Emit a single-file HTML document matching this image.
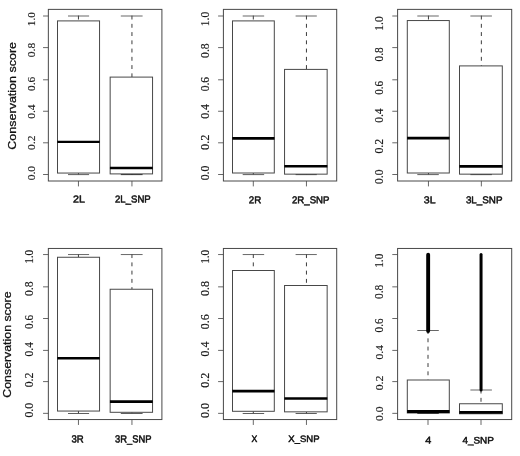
<!DOCTYPE html>
<html lang="en"><head><meta charset="utf-8"><title>Conservation score boxplots</title>
<style>html,body{margin:0;padding:0;background:#fff}svg{display:block}text{font-size:10px}.t{font-family:"Liberation Serif",serif;fill:#1a1a1a;stroke:#1a1a1a;stroke-width:.15}.x{font-family:"Liberation Sans",sans-serif;fill:#111;stroke:#111;stroke-width:.5;stroke-linejoin:round}.y{font-family:"Liberation Sans",sans-serif;fill:#111;stroke:#111;stroke-width:.25}</style></head><body>
<svg width="520" height="456" viewBox="0 0 520 456">
<rect width="520" height="456" fill="#fff"/>
<g>
<line x1="43.05" y1="16" x2="48.35" y2="16" stroke="#4c4c4c" stroke-width="0.85"/>
<line x1="43.05" y1="47.6" x2="48.35" y2="47.6" stroke="#4c4c4c" stroke-width="0.85"/>
<line x1="43.05" y1="79.8" x2="48.35" y2="79.8" stroke="#4c4c4c" stroke-width="0.85"/>
<line x1="43.05" y1="111.25" x2="48.35" y2="111.25" stroke="#4c4c4c" stroke-width="0.85"/>
<line x1="43.05" y1="142.8" x2="48.35" y2="142.8" stroke="#4c4c4c" stroke-width="0.85"/>
<line x1="43.05" y1="174.5" x2="48.35" y2="174.5" stroke="#4c4c4c" stroke-width="0.85"/>
<line x1="78.45" y1="181" x2="78.45" y2="186.4" stroke="#4c4c4c" stroke-width="0.85"/>
<line x1="131.95" y1="181" x2="131.95" y2="186.4" stroke="#4c4c4c" stroke-width="0.85"/>
<line x1="78.45" y1="15.6" x2="78.45" y2="20.9" stroke="#3c3c3c" stroke-width="1" stroke-dasharray="3.9 4.35"/>
<line x1="78.45" y1="173.05" x2="78.45" y2="174.5" stroke="#3c3c3c" stroke-width="1"/>
<line x1="68" y1="16" x2="89.1" y2="16" stroke="#4c4c4c" stroke-width="0.85"/>
<line x1="68" y1="174.6" x2="89.1" y2="174.6" stroke="#4c4c4c" stroke-width="0.9"/>
<line x1="131.95" y1="15.6" x2="131.95" y2="77.1" stroke="#3c3c3c" stroke-width="1" stroke-dasharray="3.9 4.35"/>
<line x1="131.95" y1="173.9" x2="131.95" y2="174.5" stroke="#3c3c3c" stroke-width="1"/>
<line x1="120.8" y1="16" x2="142.6" y2="16" stroke="#4c4c4c" stroke-width="0.85"/>
<line x1="120.8" y1="174.6" x2="142.6" y2="174.6" stroke="#111" stroke-width="0.9"/>
<rect x="57.5" y="20.9" width="42.05" height="152.15" fill="#fff" stroke="#484848" stroke-width="1"/>
<line x1="57.3" y1="141.9" x2="99.75" y2="141.9" stroke="#000" stroke-width="2.3"/>
<rect x="110.15" y="77.1" width="42.4" height="96.8" fill="#fff" stroke="#484848" stroke-width="1"/>
<line x1="109.95" y1="168" x2="152.75" y2="168" stroke="#000" stroke-width="2.3"/>
<rect x="48.35" y="9.38" width="113.55" height="171.62" fill="none" stroke="#484848" stroke-width="1"/>
<text class="t" transform="translate(34.81,26.15) rotate(-90) scale(1.1076,1.1265)">1.0</text>
<text class="t" transform="translate(34.81,57.21) rotate(-90) scale(1.1455,1.1265)">0.8</text>
<text class="t" transform="translate(34.81,90.90) rotate(-90) scale(1.1298,1.1265)">0.6</text>
<text class="t" transform="translate(34.81,118.81) rotate(-90) scale(1.1491,1.1265)">0.4</text>
<text class="t" transform="translate(34.81,149.91) rotate(-90) scale(1.1542,1.1265)">0.2</text>
<text class="t" transform="translate(34.81,180.31) rotate(-90) scale(1.1540,1.1265)">0.0</text>
<text class="x" transform="translate(72.96,202.60) rotate(0.03) scale(1.0706,1.0177)">2L</text>
<text class="x" transform="translate(115.02,202.60) rotate(0.03) scale(0.9593,1.0177)">2L_SNP</text>
</g>
<g>
<line x1="218.1" y1="16" x2="223.4" y2="16" stroke="#4c4c4c" stroke-width="0.85"/>
<line x1="218.1" y1="47.6" x2="223.4" y2="47.6" stroke="#4c4c4c" stroke-width="0.85"/>
<line x1="218.1" y1="79.8" x2="223.4" y2="79.8" stroke="#4c4c4c" stroke-width="0.85"/>
<line x1="218.1" y1="111.25" x2="223.4" y2="111.25" stroke="#4c4c4c" stroke-width="0.85"/>
<line x1="218.1" y1="142.8" x2="223.4" y2="142.8" stroke="#4c4c4c" stroke-width="0.85"/>
<line x1="218.1" y1="174.5" x2="223.4" y2="174.5" stroke="#4c4c4c" stroke-width="0.85"/>
<line x1="253.3" y1="181" x2="253.3" y2="186.4" stroke="#4c4c4c" stroke-width="0.85"/>
<line x1="306.45" y1="181" x2="306.45" y2="186.4" stroke="#4c4c4c" stroke-width="0.85"/>
<line x1="253.3" y1="15.6" x2="253.3" y2="20.9" stroke="#3c3c3c" stroke-width="1" stroke-dasharray="3.9 4.35"/>
<line x1="253.3" y1="173" x2="253.3" y2="174.5" stroke="#3c3c3c" stroke-width="1"/>
<line x1="242.7" y1="16" x2="264.15" y2="16" stroke="#4c4c4c" stroke-width="0.85"/>
<line x1="242.7" y1="174.6" x2="264.15" y2="174.6" stroke="#4c4c4c" stroke-width="0.9"/>
<line x1="306.45" y1="15.6" x2="306.45" y2="69.4" stroke="#3c3c3c" stroke-width="1" stroke-dasharray="3.9 4.35"/>
<line x1="306.45" y1="174.15" x2="306.45" y2="174.5" stroke="#3c3c3c" stroke-width="1"/>
<line x1="295.6" y1="16" x2="316.8" y2="16" stroke="#4c4c4c" stroke-width="0.85"/>
<line x1="295.6" y1="174.6" x2="316.8" y2="174.6" stroke="#111" stroke-width="0.9"/>
<rect x="232.5" y="20.9" width="41.8" height="152.1" fill="#fff" stroke="#484848" stroke-width="1"/>
<line x1="232.3" y1="138.4" x2="274.5" y2="138.4" stroke="#000" stroke-width="2.8"/>
<rect x="284.55" y="69.4" width="42.6" height="104.75" fill="#fff" stroke="#484848" stroke-width="1"/>
<line x1="284.35" y1="166.3" x2="327.35" y2="166.3" stroke="#000" stroke-width="2.45"/>
<rect x="223.4" y="9.38" width="113.3" height="171.62" fill="none" stroke="#484848" stroke-width="1"/>
<text class="t" transform="translate(208.70,26.19) rotate(-90) scale(1.1520,1.1853)">1.0</text>
<text class="t" transform="translate(208.70,57.92) rotate(-90) scale(1.1711,1.1853)">0.8</text>
<text class="t" transform="translate(208.70,91.31) rotate(-90) scale(1.1467,1.1853)">0.6</text>
<text class="t" transform="translate(208.70,118.82) rotate(-90) scale(1.1825,1.1853)">0.4</text>
<text class="t" transform="translate(208.70,149.94) rotate(-90) scale(1.2233,1.1853)">0.2</text>
<text class="t" transform="translate(208.70,180.33) rotate(-90) scale(1.1881,1.1853)">0.0</text>
<text class="x" transform="translate(248.76,203.15) rotate(0.03) scale(0.9746,0.9894)">2R</text>
<text class="x" transform="translate(292.02,203.15) rotate(0.03) scale(0.9637,0.9894)">2R_SNP</text>
</g>
<g>
<line x1="392.3" y1="16" x2="397.6" y2="16" stroke="#4c4c4c" stroke-width="0.85"/>
<line x1="392.3" y1="47.6" x2="397.6" y2="47.6" stroke="#4c4c4c" stroke-width="0.85"/>
<line x1="392.3" y1="79.8" x2="397.6" y2="79.8" stroke="#4c4c4c" stroke-width="0.85"/>
<line x1="392.3" y1="111.25" x2="397.6" y2="111.25" stroke="#4c4c4c" stroke-width="0.85"/>
<line x1="392.3" y1="142.8" x2="397.6" y2="142.8" stroke="#4c4c4c" stroke-width="0.85"/>
<line x1="392.3" y1="174.5" x2="397.6" y2="174.5" stroke="#4c4c4c" stroke-width="0.85"/>
<line x1="428.45" y1="181" x2="428.45" y2="186.4" stroke="#4c4c4c" stroke-width="0.85"/>
<line x1="481.35" y1="181" x2="481.35" y2="186.4" stroke="#4c4c4c" stroke-width="0.85"/>
<line x1="428.45" y1="15.6" x2="428.45" y2="20.55" stroke="#3c3c3c" stroke-width="1" stroke-dasharray="3.9 4.35"/>
<line x1="428.45" y1="173" x2="428.45" y2="174.5" stroke="#3c3c3c" stroke-width="1"/>
<line x1="417.3" y1="16" x2="438.8" y2="16" stroke="#4c4c4c" stroke-width="0.85"/>
<line x1="417.3" y1="174.6" x2="438.8" y2="174.6" stroke="#4c4c4c" stroke-width="0.9"/>
<line x1="481.35" y1="15.6" x2="481.35" y2="65.9" stroke="#3c3c3c" stroke-width="1" stroke-dasharray="3.9 4.35"/>
<line x1="481.35" y1="174.15" x2="481.35" y2="174.5" stroke="#3c3c3c" stroke-width="1"/>
<line x1="470.4" y1="16" x2="491.9" y2="16" stroke="#4c4c4c" stroke-width="0.85"/>
<line x1="470.4" y1="174.6" x2="491.9" y2="174.6" stroke="#111" stroke-width="0.9"/>
<rect x="407.3" y="20.55" width="42.0" height="152.45" fill="#fff" stroke="#484848" stroke-width="1"/>
<line x1="407.1" y1="138.1" x2="449.5" y2="138.1" stroke="#000" stroke-width="2.6"/>
<rect x="459.5" y="65.9" width="42.8" height="108.25" fill="#fff" stroke="#484848" stroke-width="1"/>
<line x1="459.3" y1="166.4" x2="502.5" y2="166.4" stroke="#000" stroke-width="2.6"/>
<rect x="397.6" y="9.38" width="114.1" height="171.62" fill="none" stroke="#484848" stroke-width="1"/>
<text class="t" transform="translate(382.50,30.69) rotate(-90) scale(1.1520,1.2147)">1.0</text>
<text class="t" transform="translate(382.50,61.40) rotate(-90) scale(1.1285,1.2147)">0.8</text>
<text class="t" transform="translate(382.50,94.69) rotate(-90) scale(1.1044,1.2147)">0.6</text>
<text class="t" transform="translate(382.50,122.81) rotate(-90) scale(1.1574,1.2147)">0.4</text>
<text class="t" transform="translate(382.50,153.62) rotate(-90) scale(1.1801,1.2147)">0.2</text>
<text class="t" transform="translate(382.50,183.91) rotate(-90) scale(1.1540,1.2147)">0.0</text>
<text class="x" transform="translate(423.85,203.15) rotate(0.03) scale(1.0577,0.9894)">3L</text>
<text class="x" transform="translate(465.88,203.15) rotate(0.03) scale(0.9835,0.9894)">3L_SNP</text>
</g>
<g>
<line x1="43.05" y1="254.55" x2="48.35" y2="254.55" stroke="#4c4c4c" stroke-width="0.85"/>
<line x1="43.05" y1="286.85" x2="48.35" y2="286.85" stroke="#4c4c4c" stroke-width="0.85"/>
<line x1="43.05" y1="318.5" x2="48.35" y2="318.5" stroke="#4c4c4c" stroke-width="0.85"/>
<line x1="43.05" y1="350.4" x2="48.35" y2="350.4" stroke="#4c4c4c" stroke-width="0.85"/>
<line x1="43.05" y1="381.6" x2="48.35" y2="381.6" stroke="#4c4c4c" stroke-width="0.85"/>
<line x1="43.05" y1="413.35" x2="48.35" y2="413.35" stroke="#4c4c4c" stroke-width="0.85"/>
<line x1="78.45" y1="419.55" x2="78.45" y2="424.95" stroke="#4c4c4c" stroke-width="0.85"/>
<line x1="131.95" y1="419.55" x2="131.95" y2="424.95" stroke="#4c4c4c" stroke-width="0.85"/>
<line x1="78.45" y1="254.15" x2="78.45" y2="257.26" stroke="#3c3c3c" stroke-width="1" stroke-dasharray="3.9 4.35"/>
<line x1="78.45" y1="411.05" x2="78.45" y2="413.4" stroke="#3c3c3c" stroke-width="1"/>
<line x1="68" y1="254.55" x2="89.1" y2="254.55" stroke="#4c4c4c" stroke-width="0.85"/>
<line x1="68" y1="413.5" x2="89.1" y2="413.5" stroke="#4c4c4c" stroke-width="0.9"/>
<line x1="131.95" y1="254.15" x2="131.95" y2="289.25" stroke="#3c3c3c" stroke-width="1" stroke-dasharray="3.9 4.35"/>
<line x1="131.95" y1="412.3" x2="131.95" y2="413.4" stroke="#3c3c3c" stroke-width="1"/>
<line x1="120.8" y1="254.55" x2="142.6" y2="254.55" stroke="#4c4c4c" stroke-width="0.85"/>
<line x1="120.8" y1="413.5" x2="142.6" y2="413.5" stroke="#4c4c4c" stroke-width="0.9"/>
<rect x="57.5" y="257.26" width="42.05" height="153.79" fill="#fff" stroke="#484848" stroke-width="1"/>
<line x1="57.3" y1="358.25" x2="99.75" y2="358.25" stroke="#000" stroke-width="2.5"/>
<rect x="110.15" y="289.25" width="42.4" height="123.05" fill="#fff" stroke="#484848" stroke-width="1"/>
<line x1="109.95" y1="401.65" x2="152.75" y2="401.65" stroke="#000" stroke-width="2.6"/>
<rect x="48.35" y="248.46" width="113.55" height="171.09" fill="none" stroke="#484848" stroke-width="1"/>
<text class="t" transform="translate(33.10,263.86) rotate(-90) scale(1.1253,1.2000)">1.0</text>
<text class="t" transform="translate(33.10,296.02) rotate(-90) scale(1.1711,1.2000)">0.8</text>
<text class="t" transform="translate(33.10,328.90) rotate(-90) scale(1.1129,1.2000)">0.6</text>
<text class="t" transform="translate(33.10,356.41) rotate(-90) scale(1.1491,1.2000)">0.4</text>
<text class="t" transform="translate(33.10,387.32) rotate(-90) scale(1.1715,1.2000)">0.2</text>
<text class="t" transform="translate(33.10,417.62) rotate(-90) scale(1.1796,1.2000)">0.0</text>
<text class="x" transform="translate(71.54,442.40) rotate(0.03) scale(0.9560,1.0318)">3R</text>
<text class="x" transform="translate(115.05,442.40) rotate(0.03) scale(0.9395,1.0318)">3R_SNP</text>
</g>
<g>
<line x1="218.1" y1="254.55" x2="223.4" y2="254.55" stroke="#4c4c4c" stroke-width="0.85"/>
<line x1="218.1" y1="286.85" x2="223.4" y2="286.85" stroke="#4c4c4c" stroke-width="0.85"/>
<line x1="218.1" y1="318.5" x2="223.4" y2="318.5" stroke="#4c4c4c" stroke-width="0.85"/>
<line x1="218.1" y1="350.4" x2="223.4" y2="350.4" stroke="#4c4c4c" stroke-width="0.85"/>
<line x1="218.1" y1="381.6" x2="223.4" y2="381.6" stroke="#4c4c4c" stroke-width="0.85"/>
<line x1="218.1" y1="413.35" x2="223.4" y2="413.35" stroke="#4c4c4c" stroke-width="0.85"/>
<line x1="253.3" y1="419.55" x2="253.3" y2="424.95" stroke="#4c4c4c" stroke-width="0.85"/>
<line x1="306.45" y1="419.55" x2="306.45" y2="424.95" stroke="#4c4c4c" stroke-width="0.85"/>
<line x1="253.3" y1="254.15" x2="253.3" y2="270.5" stroke="#3c3c3c" stroke-width="1" stroke-dasharray="3.9 4.35"/>
<line x1="253.3" y1="411.3" x2="253.3" y2="413.4" stroke="#3c3c3c" stroke-width="1"/>
<line x1="242.7" y1="254.55" x2="264.15" y2="254.55" stroke="#4c4c4c" stroke-width="0.85"/>
<line x1="242.7" y1="413.5" x2="264.15" y2="413.5" stroke="#4c4c4c" stroke-width="0.9"/>
<line x1="306.45" y1="254.15" x2="306.45" y2="285.5" stroke="#3c3c3c" stroke-width="1" stroke-dasharray="3.9 4.35"/>
<line x1="306.45" y1="411.85" x2="306.45" y2="413.4" stroke="#3c3c3c" stroke-width="1"/>
<line x1="295.6" y1="254.55" x2="316.8" y2="254.55" stroke="#4c4c4c" stroke-width="0.85"/>
<line x1="295.6" y1="413.5" x2="316.8" y2="413.5" stroke="#4c4c4c" stroke-width="0.9"/>
<rect x="232.5" y="270.5" width="41.8" height="140.8" fill="#fff" stroke="#484848" stroke-width="1"/>
<line x1="232.3" y1="391.15" x2="274.5" y2="391.15" stroke="#000" stroke-width="2.9"/>
<rect x="284.55" y="285.5" width="42.6" height="126.35" fill="#fff" stroke="#484848" stroke-width="1"/>
<line x1="284.35" y1="398.5" x2="327.35" y2="398.5" stroke="#000" stroke-width="2.4"/>
<rect x="223.4" y="248.46" width="113.3" height="171.09" fill="none" stroke="#484848" stroke-width="1"/>
<text class="t" transform="translate(208.80,263.86) rotate(-90) scale(1.1253,1.2147)">1.0</text>
<text class="t" transform="translate(208.80,296.03) rotate(-90) scale(1.2051,1.2147)">0.8</text>
<text class="t" transform="translate(208.80,329.33) rotate(-90) scale(1.1975,1.2147)">0.6</text>
<text class="t" transform="translate(208.80,356.43) rotate(-90) scale(1.1992,1.2147)">0.4</text>
<text class="t" transform="translate(208.80,387.73) rotate(-90) scale(1.2060,1.2147)">0.2</text>
<text class="t" transform="translate(208.80,417.93) rotate(-90) scale(1.2051,1.2147)">0.0</text>
<text class="x" transform="translate(251.40,442.01) rotate(0.03) scale(0.8675,0.9329)">X</text>
<text class="x" transform="translate(288.29,442.01) rotate(0.03) scale(0.9548,0.9329)">X_SNP</text>
</g>
<g>
<line x1="392.3" y1="254.55" x2="397.6" y2="254.55" stroke="#4c4c4c" stroke-width="0.85"/>
<line x1="392.3" y1="286.85" x2="397.6" y2="286.85" stroke="#4c4c4c" stroke-width="0.85"/>
<line x1="392.3" y1="318.5" x2="397.6" y2="318.5" stroke="#4c4c4c" stroke-width="0.85"/>
<line x1="392.3" y1="350.4" x2="397.6" y2="350.4" stroke="#4c4c4c" stroke-width="0.85"/>
<line x1="392.3" y1="381.6" x2="397.6" y2="381.6" stroke="#4c4c4c" stroke-width="0.85"/>
<line x1="392.3" y1="413.35" x2="397.6" y2="413.35" stroke="#4c4c4c" stroke-width="0.85"/>
<line x1="428" y1="419.55" x2="428" y2="424.95" stroke="#4c4c4c" stroke-width="0.85"/>
<line x1="481" y1="419.55" x2="481" y2="424.95" stroke="#4c4c4c" stroke-width="0.85"/>
<line x1="428" y1="330.1" x2="428" y2="380" stroke="#3c3c3c" stroke-width="1" stroke-dasharray="3.9 4.35"/>
<line x1="428" y1="413" x2="428" y2="413.4" stroke="#3c3c3c" stroke-width="1"/>
<line x1="417.3" y1="330.5" x2="438.8" y2="330.5" stroke="#4c4c4c" stroke-width="0.85"/>
<line x1="417.3" y1="413.5" x2="438.8" y2="413.5" stroke="#111" stroke-width="0.9"/>
<line x1="481" y1="389.6" x2="481" y2="403.75" stroke="#3c3c3c" stroke-width="1" stroke-dasharray="3.9 4.35"/>
<line x1="481" y1="413.75" x2="481" y2="413.4" stroke="#3c3c3c" stroke-width="1"/>
<line x1="470.4" y1="390" x2="491.9" y2="390" stroke="#4c4c4c" stroke-width="0.85"/>
<line x1="470.4" y1="413.5" x2="491.9" y2="413.5" stroke="#111" stroke-width="0.9"/>
<line x1="428.15" y1="254.75" x2="428.15" y2="331.05" stroke="#000" stroke-width="3.9" stroke-linecap="round"/>
<line x1="481.05" y1="254.4" x2="481.05" y2="389.9" stroke="#000" stroke-width="3.0" stroke-linecap="round"/>
<rect x="407.3" y="380.0" width="42.0" height="33.0" fill="#fff" stroke="#484848" stroke-width="1"/>
<line x1="407.1" y1="411.5" x2="449.5" y2="411.5" stroke="#000" stroke-width="3.2"/>
<rect x="459.5" y="403.75" width="42.8" height="10.0" fill="#fff" stroke="#484848" stroke-width="1"/>
<line x1="459.3" y1="412.3" x2="502.5" y2="412.3" stroke="#000" stroke-width="2.8"/>
<rect x="397.6" y="248.46" width="114.1" height="171.09" fill="none" stroke="#484848" stroke-width="1"/>
<text class="t" transform="translate(382.81,267.76) rotate(-90) scale(1.1253,1.1412)">1.0</text>
<text class="t" transform="translate(382.81,298.91) rotate(-90) scale(1.1370,1.1412)">0.8</text>
<text class="t" transform="translate(382.81,332.40) rotate(-90) scale(1.1129,1.1412)">0.6</text>
<text class="t" transform="translate(382.81,359.41) rotate(-90) scale(1.1491,1.1412)">0.4</text>
<text class="t" transform="translate(382.81,390.32) rotate(-90) scale(1.1715,1.1412)">0.2</text>
<text class="t" transform="translate(382.81,420.91) rotate(-90) scale(1.1540,1.1412)">0.0</text>
<text class="x" transform="translate(425.25,443.50) rotate(0.03) scale(1.0891,0.9745)">4</text>
<text class="x" transform="translate(462.38,443.41) rotate(0.03) scale(0.9952,0.9470)">4_SNP</text>
</g>
<text class="y" transform="translate(15.52,149.66) rotate(-90) scale(1.2515,1.0898)">Conservation score</text>
<text class="y" transform="translate(11.02,397.65) rotate(-90) scale(1.2351,1.0898)">Conservation score</text>
</svg></body></html>
